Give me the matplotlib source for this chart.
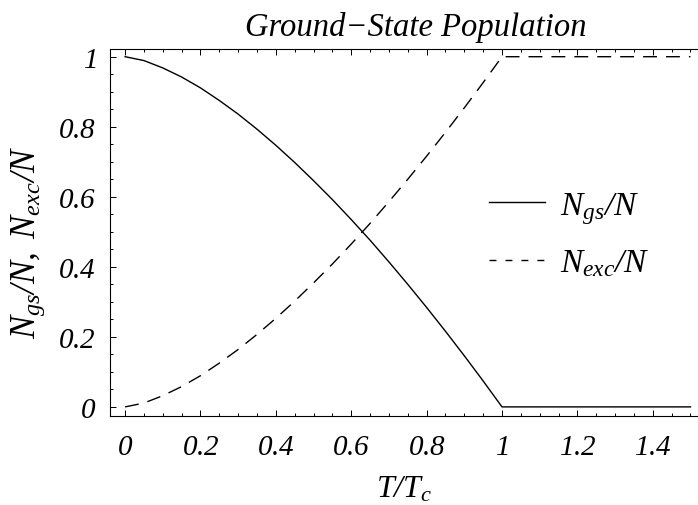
import numpy as np
import matplotlib
matplotlib.use("Agg")
import matplotlib.pyplot as plt
from matplotlib.lines import Line2D
from matplotlib.ticker import MultipleLocator

# values
t_ratio = [0.0, 0.05, 0.1, 0.15, 0.2, 0.25, 0.3, 0.35, 0.4, 0.45, 0.5,
           0.55, 0.6, 0.65, 0.7, 0.75, 0.8, 0.85, 0.9, 0.95, 1.0, 1.5]
n_gs = [1.0, 0.989, 0.968, 0.942, 0.911, 0.875, 0.836, 0.793, 0.747, 0.698, 0.646,
        0.592, 0.535, 0.476, 0.414, 0.350, 0.284, 0.216, 0.146, 0.074, 0.0, 0.0]
n_exc = [0.0, 0.011, 0.032, 0.058, 0.089, 0.125, 0.164, 0.207, 0.253, 0.302, 0.354,
         0.408, 0.465, 0.524, 0.586, 0.650, 0.716, 0.784, 0.854, 0.926, 1.0, 1.0]
series_names = [r'$N_{gs}/N$', r'$N_{exc}/N$']

plt.rcParams['font.family'] = 'Liberation Serif'
plt.rcParams['font.style'] = 'italic'
plt.rcParams['mathtext.fontset'] = 'custom'
plt.rcParams['mathtext.it'] = 'Liberation Serif:italic'
plt.rcParams['mathtext.rm'] = 'Liberation Serif:italic'

fig = plt.figure(figsize=(6.98, 5.06), dpi=100)
ax = fig.add_axes([110/698, 89/506, 588/698, 367/506])

ax.plot(t_ratio, n_gs, color='black', lw=1.0)
ax.plot(t_ratio, n_exc, color='black', lw=1.0, dashes=(10, 6.5))

ax.set_xlim(-0.04, 1.52)
ax.set_ylim(-0.026, 1.022)

ax.xaxis.set_major_locator(MultipleLocator(0.2))
ax.xaxis.set_minor_locator(MultipleLocator(0.05))
ax.yaxis.set_major_locator(MultipleLocator(0.2))
ax.yaxis.set_minor_locator(MultipleLocator(0.05))

def fmt(v, pos):
    s = '%.1f' % v
    if s.endswith('.0'):
        s = s[:-2]
    return '$' + s + '$'

ax.xaxis.set_major_formatter(plt.FuncFormatter(fmt))
ax.yaxis.set_major_formatter(plt.FuncFormatter(fmt))

ax.spines['right'].set_visible(False)
for s in ['top', 'bottom', 'left']:
    ax.spines[s].set_linewidth(0.8)
ax.tick_params(which='both', direction='in', top=True, right=False, width=0.7)
ax.tick_params(which='major', length=4.5, labelsize=21)
ax.tick_params(which='minor', length=2.5)
ax.tick_params(axis='x', pad=13)
ax.tick_params(axis='y', pad=10)

ax.set_xlabel(r'$T/T_c$', fontsize=23, labelpad=10)
ax.set_ylabel(r'$N_{gs}/N,\ N_{exc}/N$', fontsize=25)
ax.yaxis.set_label_coords(-0.107, 0.477)
ax.set_title('Ground\u2212State Population', fontsize=23.5, x=0.52, pad=10)

handles = [Line2D([], [], color='black', lw=1.0),
           Line2D([], [], color='black', lw=1.0, dashes=(5, 6.5))]
ax.legend(handles, series_names, loc='center left', bbox_to_anchor=(0.593, 0.495),
          frameon=False, fontsize=24, handlelength=1.7, labelspacing=0.66,
          handletextpad=0.45)

fig.savefig('out.png', dpi=100)
